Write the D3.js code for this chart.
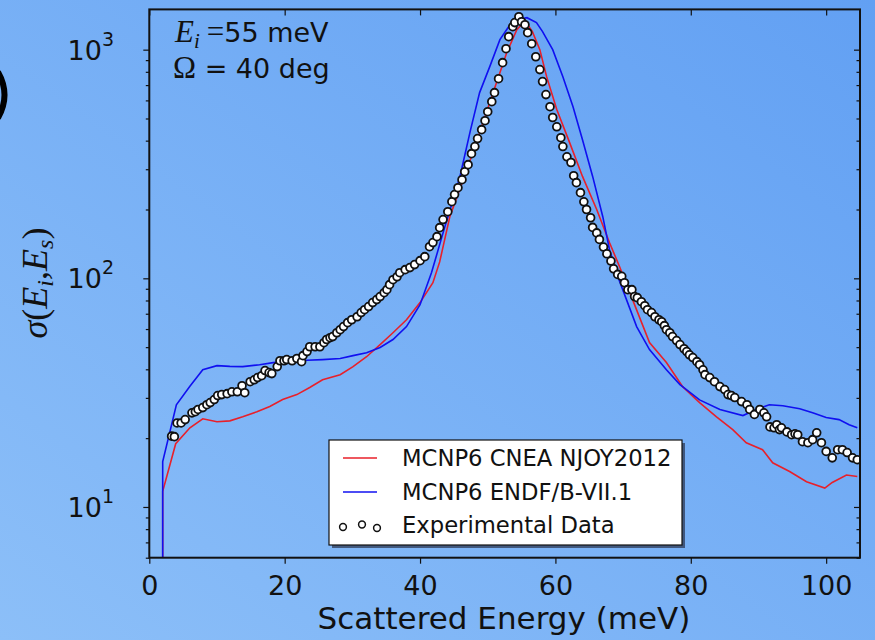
<!DOCTYPE html>
<meta charset="utf-8">
<style>
  body { margin: 0; }
  svg text { font-family: "DejaVu Sans", sans-serif; fill: #111; }
  .math { font-family: "Liberation Serif", "DejaVu Serif", serif; }
</style>
<body>
<svg width="875" height="640"></svg>
<script src="https://d3js.org/d3.v7.min.js"></script>
<script>
// experimental points (scattered energy in meV, cross section)
const expX = [3.3, 3.7, 4.1, 4.7, 5.3, 6.3, 6.8, 7.2, 7.9, 8.5, 9.0, 9.6, 10.1, 10.7, 11.5, 12.2, 13.0, 13.7, 14.1, 14.9,
  15.5, 16.0, 16.6, 17.1, 17.7, 18.1, 18.9, 19.3, 19.9, 20.3, 21.1, 21.8, 22.5, 22.7, 23.3, 23.7, 24.5, 25.2, 25.8, 26.2,
  26.7, 27.1, 27.7, 28.2, 28.7, 29.3, 29.9, 30.7, 31.3, 31.8, 32.4, 33.0, 33.6, 34.1, 34.7, 35.1, 35.5, 36.0, 36.6, 37.0,
  37.8, 38.5, 39.2, 40.0, 40.7, 41.4, 41.9, 42.5, 42.9, 43.4, 44.1, 44.7, 45.1, 45.6, 46.2, 46.6, 47.1, 47.6, 48.1, 48.5,
  49.1, 49.6, 50.0, 50.6, 51.0, 51.6, 52.2, 52.7, 53.1, 53.7, 54.0, 54.6, 55.0, 55.5, 55.9, 56.5, 57.1, 57.7, 58.1, 58.6,
  59.2, 59.6, 60.2, 60.8, 61.1, 61.7, 62.3, 62.7, 63.1, 63.7, 64.2, 64.6, 65.2, 65.5, 66.1, 66.5, 67.1, 67.6, 68.2, 68.6,
  69.2, 69.8, 70.2, 70.7, 71.3, 71.7, 72.1, 72.7, 73.2, 73.6, 74.2, 74.7, 75.3, 75.7, 76.1, 76.4, 76.9, 77.3, 77.9, 78.4,
  79.0, 79.4, 79.8, 80.3, 80.9, 81.3, 81.8, 82.1, 82.8, 83.5, 84.3, 85.0, 85.5, 86.0, 86.5, 87.5, 88.3, 88.7, 89.4, 90.2,
  90.8, 91.2, 91.7, 92.3, 92.7, 93.1, 93.4, 94.2, 94.9, 95.4, 95.8, 96.5, 97.3, 98.0, 98.6, 99.3, 100.0, 100.9, 101.7, 102.4,
  103.1, 103.9, 104.6];
const expY = [20.4, 20.3, 23.3, 23.3, 24.1, 25.8, 26.1, 26.7, 27.2, 28.0, 28.6, 29.5, 30.7, 31.0, 31.3, 31.9, 31.9, 33.9, 31.6, 35.3,
  36.0, 36.8, 37.5, 39.5, 38.7, 38.3, 41.1, 43.6, 43.6, 44.1, 43.6, 44.6, 43.2, 45.9, 47.8, 50.2, 50.2, 50.2, 52.3, 54.0,
  55.0, 55.6, 57.8, 59.6, 61.5, 64.0, 65.9, 67.9, 70.8, 72.9, 75.2, 78.3, 80.7, 83.2, 86.5, 89.2, 93.8, 98.6, 101.6, 105.8,
  109.1, 111.4, 114.8, 119.5, 124.4, 137.5, 143.3, 152.1, 166.6, 180.6, 195.6, 216.4, 232.3, 249.1, 270.0, 292.6, 314.1, 350.9, 376.8, 408.3,
  446.8, 489.0, 535.3, 592.3, 648.6, 746.5, 877.4, 1010, 1140, 1261, 1313, 1394, 1325, 1286, 1187, 1062, 931, 818, 725, 636,
  563, 505, 460, 412, 377, 340, 321, 281, 262, 237, 216, 200, 184, 167, 158, 148, 137, 128, 119, 110,
  104, 102, 95.7, 89.2, 89.2, 83.2, 82.3, 79.0, 75.9, 72.9, 70.8, 67.9, 65.9, 64.6, 62.1, 59.6, 57.8, 55.6, 53.4, 51.3,
  49.2, 47.8, 46.3, 45.0, 43.2, 41.9, 39.8, 37.9, 36.8, 35.3, 33.6, 32.6, 31.0, 30.7, 30.1, 28.9, 28.0, 26.7, 25.4, 26.7,
  25.8, 24.8, 22.4, 22.2, 22.9, 21.8, 22.2, 21.3, 20.7, 20.9, 20.7, 19.3, 19.1, 19.7, 21.1, 19.1, 17.5, 16.4, 17.8, 17.8,
  17.3, 16.4, 16.1];

// MCNP6 CNEA NJOY2012
const cneaX = [1.98, 1.98, 3.9, 6.0, 7.9, 10.0, 11.9, 13.8, 15.9, 17.8, 19.7, 21.8, 23.7, 25.6, 28.2, 30.1, 32.1, 34.1, 36.0, 38.0,
  40.0, 41.9, 42.9, 44.4, 46.9, 48.8, 50.7, 52.8, 54.3, 55.5, 56.6, 57.7, 58.7, 60.2, 62.1, 64.0, 66.1, 68.0, 69.5, 71.4,
  73.9, 76.4, 78.8, 81.3, 83.8, 86.2, 88.2, 90.6, 92.1, 94.6, 97.1, 99.8, 100.9, 103.0, 104.6];
const cneaY = [1, 11.7, 18.9, 22.2, 24.3, 23.6, 23.8, 24.8, 26.1, 27.5, 29.5, 31.0, 33.3, 36.0, 37.9, 41.1, 45.4, 51.3, 57.8, 65.9,
  78.3, 95.7, 118, 186, 298, 433, 636, 970, 1222, 1339, 1199, 1000, 762, 547, 392, 279, 200, 143, 112, 80.7,
  52.4, 42.8, 33.6, 28.6, 24.8, 21.8, 19.1, 17.8, 15.6, 14.3, 12.9, 12.1, 12.8, 13.8, 13.6];

// MCNP6 ENDF/B-VII.1
const endfX = [1.98, 1.98, 4.0, 6.0, 7.9, 10.0, 11.9, 13.8, 16.3, 18.3, 20.3, 23.3, 25.6, 28.2, 30.1, 32.1, 34.1, 36.0, 38.0, 40.0,
  41.7, 43.4, 45.9, 47.4, 48.8, 50.3, 51.8, 53.3, 54.3, 55.8, 57.2, 58.1, 59.6, 61.1, 62.6, 64.0, 65.5, 67.0, 68.0, 69.2,
  70.5, 72.0, 73.9, 76.4, 78.4, 81.3, 84.3, 87.7, 89.7, 91.6, 93.6, 96.1, 98.0, 100.0, 101.9, 103.4, 104.6];
const endfY = [1, 15.8, 28.0, 33.7, 39.8, 41.5, 41.2, 41.1, 41.9, 42.8, 43.2, 43.8, 44.1, 44.6, 45.9, 47.3, 49.8, 54.0, 61.5, 76.7,
  106, 158, 279, 438, 649, 843, 1106, 1286, 1352, 1380, 1313, 1199, 1000, 762, 563, 404, 279, 186, 133, 102,
  80.7, 61.5, 48.8, 39.8, 34.3, 29.4, 26.7, 25.1, 26.7, 28.0, 27.7, 26.9, 25.8, 24.6, 24.1, 22.9, 22.2];

const xTicks = [0, 20, 40, 60, 80, 100];
const yMajor = [10, 100, 1000];
const yMinor = [6, 7, 8, 9, 20, 30, 40, 50, 60, 70, 80, 90, 200, 300, 400, 500, 600, 700, 800, 900];
const legendLabels = ['MCNP6 CNEA NJOY2012', 'MCNP6 ENDF/B-VII.1', 'Experimental Data'];

const svg = d3.select('svg');
const W = 875, H = 640;

// blue gradient background
const defs = svg.append('defs');
const grad = defs.append('linearGradient').attr('id', 'bg')
  .attr('x1', 1).attr('y1', 0).attr('x2', 0).attr('y2', 1);
grad.append('stop').attr('offset', 0).attr('stop-color', '#62a0f3');
grad.append('stop').attr('offset', 1).attr('stop-color', '#8cbff8');
svg.append('rect').attr('width', W).attr('height', H).attr('fill', 'url(#bg)');

const x = d3.scaleLinear().domain([0, 105]).range([149.3, 860]);
const y = d3.scaleLog().domain([6, 1500]).range([557.7, 9.4]);

defs.append('clipPath').attr('id', 'plot')
  .append('rect')
  .attr('x', x(0)).attr('y', y(1500))
  .attr('width', x(105) - x(0)).attr('height', y(6) - y(1500));

// leftover bracket at the edge of the slide
svg.append('path')
  .attr('d', 'M-2,72 Q11,95 -2,118')
  .attr('fill', 'none')
  .attr('stroke', '#000')
  .attr('stroke-width', 6);

// lines
const line = d3.line().x(d => x(d[0])).y(d => y(d[1]));
const plot = svg.append('g').attr('clip-path', 'url(#plot)');

plot.append('path')
  .datum(d3.zip(cneaX, cneaY))
  .attr('d', line)
  .attr('fill', 'none')
  .attr('stroke', '#e8202a')
  .attr('stroke-width', 1.6);

plot.append('path')
  .datum(d3.zip(endfX, endfY))
  .attr('d', line)
  .attr('fill', 'none')
  .attr('stroke', '#1010f0')
  .attr('stroke-width', 1.6);

plot.append('g')
  .selectAll('circle')
  .data(d3.zip(expX, expY))
  .enter().append('circle')
  .attr('cx', d => x(d[0]))
  .attr('cy', d => y(d[1]))
  .attr('r', 3.9)
  .attr('fill', '#fff')
  .attr('stroke', '#111')
  .attr('stroke-width', 1.8);

// axes
const axisBottom = svg.append('g')
  .attr('transform', `translate(0,${y(6)})`)
  .call(d3.axisBottom(x).tickValues(xTicks).tickSize(6).tickSizeOuter(0).tickPadding(6));
axisBottom.select('.domain').remove();
axisBottom.selectAll('text').attr('font-size', 27).attr('font-family', '"DejaVu Sans", sans-serif').attr('dy', '0.95em');

const axisTop = svg.append('g')
  .attr('transform', `translate(0,${y(1500)})`)
  .call(d3.axisTop(x).tickValues(xTicks).tickSize(-6).tickSizeOuter(0).tickFormat(''));
axisTop.select('.domain').remove();

const axisLeft = svg.append('g')
  .attr('transform', `translate(${x(0)},0)`)
  .call(d3.axisLeft(y).tickValues(yMajor).tickSize(6).tickSizeOuter(0).tickFormat(''));
axisLeft.select('.domain').remove();
svg.append('g')
  .attr('transform', `translate(${x(0)},0)`)
  .call(d3.axisLeft(y).tickValues(yMinor).tickSize(3.5).tickSizeOuter(0).tickFormat(''))
  .select('.domain').remove();

svg.append('g')
  .attr('transform', `translate(${x(105)},0)`)
  .call(d3.axisRight(y).tickValues(yMajor).tickSize(-6).tickSizeOuter(0).tickFormat(''))
  .select('.domain').remove();
svg.append('g')
  .attr('transform', `translate(${x(105)},0)`)
  .call(d3.axisRight(y).tickValues(yMinor).tickSize(-3.5).tickSizeOuter(0).tickFormat(''))
  .select('.domain').remove();

svg.selectAll('.tick line').attr('stroke', '#111').attr('stroke-width', 1.2);

// y tick labels, 10^n
const yLab = svg.append('g').selectAll('text')
  .data(yMajor)
  .enter().append('text')
  .attr('x', 114)
  .attr('y', d => y(d) + 10)
  .attr('text-anchor', 'end')
  .attr('font-size', 27);
yLab.append('tspan').text('10');
yLab.append('tspan').attr('font-size', 19).attr('dy', -14).text(d => Math.round(Math.log10(d)));

// frame
svg.append('rect')
  .attr('x', x(0)).attr('y', y(1500))
  .attr('width', x(105) - x(0)).attr('height', y(6) - y(1500))
  .attr('fill', 'none')
  .attr('stroke', '#111')
  .attr('stroke-width', 2);

// axis labels
svg.append('text')
  .attr('x', 504).attr('y', 629)
  .attr('text-anchor', 'middle')
  .attr('font-size', 31)
  .text('Scattered Energy (meV)');

const yl = svg.append('text')
  .attr('class', 'math')
  .attr('transform', 'translate(47,283) rotate(-90)')
  .attr('text-anchor', 'middle')
  .attr('font-size', 36)
  .attr('font-style', 'italic');
yl.append('tspan').text('σ');
yl.append('tspan').attr('font-style', 'normal').text('(');
yl.append('tspan').text('E');
yl.append('tspan').attr('font-size', 24).attr('dy', 6).text('i');
yl.append('tspan').attr('dy', -6).attr('font-style', 'normal').text(',');
yl.append('tspan').text('E');
yl.append('tspan').attr('font-size', 24).attr('dy', 6).text('s');
yl.append('tspan').attr('dy', -6).attr('font-style', 'normal').text(')');

// annotation
const t1 = svg.append('text').attr('x', 175).attr('y', 42).attr('font-size', 27);
t1.append('tspan').attr('class', 'math').attr('font-style', 'italic').attr('font-size', 31).text('E');
t1.append('tspan').attr('class', 'math').attr('font-style', 'italic').attr('font-size', 21).attr('dy', 6).text('i');
t1.append('tspan').attr('class', 'math').attr('font-size', 31).attr('dy', -6).attr('dx', 7).text('=');
t1.append('tspan').text('55 meV');

const t2 = svg.append('text').attr('x', 173).attr('y', 78).attr('font-size', 27);
t2.append('tspan').attr('class', 'math').attr('font-size', 31).text('Ω');
t2.append('tspan').text(' = 40 deg');

// legend
const lg = svg.append('g').attr('transform', 'translate(329,440)');
lg.append('rect').attr('x', 3).attr('y', 3).attr('width', 353).attr('height', 105)
  .attr('fill', '#2d3a55').attr('opacity', 0.75);
lg.append('rect').attr('width', 353).attr('height', 105)
  .attr('fill', '#fff').attr('stroke', '#111').attr('stroke-width', 1.2);

const rows = [18, 52, 85];
lg.append('line').attr('x1', 14).attr('x2', 48).attr('y1', rows[0]).attr('y2', rows[0])
  .attr('stroke', '#e8202a').attr('stroke-width', 1.6);
lg.append('line').attr('x1', 14).attr('x2', 48).attr('y1', rows[1]).attr('y2', rows[1])
  .attr('stroke', '#1010f0').attr('stroke-width', 1.6);
lg.selectAll('circle')
  .data([[14, 2], [33, -0.5], [48, 3]])
  .enter().append('circle')
  .attr('cx', d => d[0]).attr('cy', d => rows[2] + d[1])
  .attr('r', 3.4)
  .attr('fill', '#fff').attr('stroke', '#111').attr('stroke-width', 1.5);

lg.selectAll('text.lab')
  .data(legendLabels)
  .enter().append('text')
  .attr('class', 'lab')
  .attr('x', 73)
  .attr('y', (d, i) => rows[i] + 8)
  .attr('font-size', 22.7)
  .text(d => d);
</script>
</body>
